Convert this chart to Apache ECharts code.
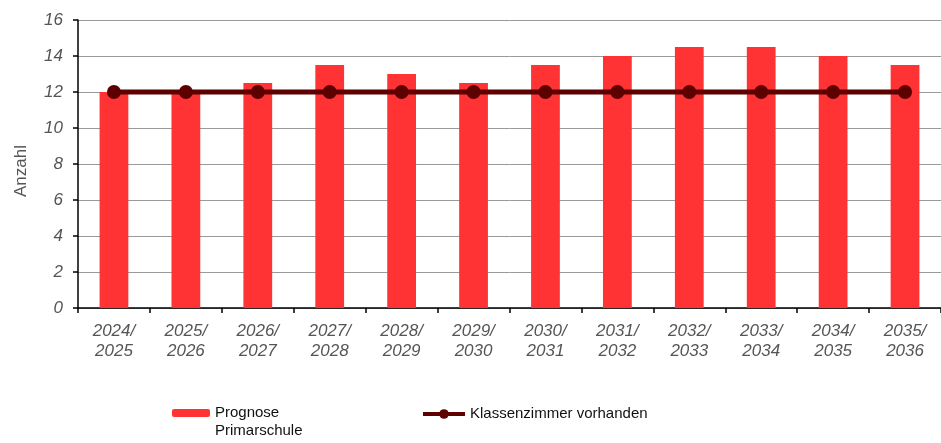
<!DOCTYPE html>
<html><head><meta charset="utf-8">
<script src="https://cdn.jsdelivr.net/npm/echarts@6/dist/echarts.min.js"></script>
<style>html,body{margin:0;padding:0;background:#fff}#c{width:941px;height:443px}</style>
</head><body><div id="c"></div>
<script>
const categories = ['2024/\n2025','2025/\n2026','2026/\n2027','2027/\n2028','2028/\n2029','2029/\n2030','2030/\n2031','2031/\n2032','2032/\n2033','2033/\n2034','2034/\n2035','2035/\n2036'];
const prognose = [12, 12, 12.5, 13.5, 13, 12.5, 13.5, 14, 14.5, 14.5, 14, 13.5];
const klassenzimmer = [12, 12, 12, 12, 12, 12, 12, 12, 12, 12, 12, 12];
const yTicks = {min: 0, max: 16, interval: 2};

const chart = echarts.init(document.getElementById('c'), null, {renderer: 'canvas'});
const font = 'Liberation Sans, Arial, sans-serif';
chart.setOption({
  animation: false,
  textStyle: {fontFamily: font},
  grid: {left: 78, top: 20, width: 866, height: 288, containLabel: false},
  legend: [
    {data: ['Prognose\nPrimarschule'], left: 172, top: 386, padding: 0, itemWidth: 38, itemHeight: 8,
     formatter: function (n) { return ' \n' + n; },
     textStyle: {fontSize: 15, color: '#111', fontFamily: font, lineHeight: 18}},
    {data: ['Klassenzimmer vorhanden'], left: 421, top: 405, padding: 0, itemWidth: 42, itemHeight: 12,
     lineStyle: {width: 4},
     textStyle: {fontSize: 15, color: '#111', fontFamily: font, lineHeight: 18}}
  ],
  xAxis: {
    type: 'category', data: categories,
    axisLine: {lineStyle: {color: '#000', width: 1.5}},
    axisTick: {show: true, length: 5, lineStyle: {color: '#000', width: 1.5}},
    axisLabel: {fontStyle: 'italic', fontSize: 17, color: '#555', lineHeight: 20, margin: 13, fontFamily: font}
  },
  yAxis: {
    type: 'value', min: yTicks.min, max: yTicks.max, interval: yTicks.interval,
    name: 'Anzahl', nameLocation: 'middle', nameGap: 48, nameRotate: 90,
    nameTextStyle: {fontSize: 17, color: '#555', fontFamily: font, padding: [0, 14, 0, 0]},
    axisLine: {show: true, lineStyle: {color: '#000', width: 1.5}},
    axisTick: {show: true, length: 5, lineStyle: {color: '#000', width: 1.5}},
    axisLabel: {fontStyle: 'italic', fontSize: 17, color: '#555', margin: 15, fontFamily: font},
    splitLine: {lineStyle: {color: '#999', width: 1}}
  },
  series: [
    {name: 'Prognose\nPrimarschule', type: 'bar', data: prognose, barWidth: '40%',
     itemStyle: {color: '#ff3333'}},
    {name: 'Klassenzimmer vorhanden', type: 'line', data: klassenzimmer,
     symbol: 'circle', symbolSize: 14,
     lineStyle: {color: '#5c0000', width: 5}, itemStyle: {color: '#5c0000'}}
  ]
});
</script></body></html>
